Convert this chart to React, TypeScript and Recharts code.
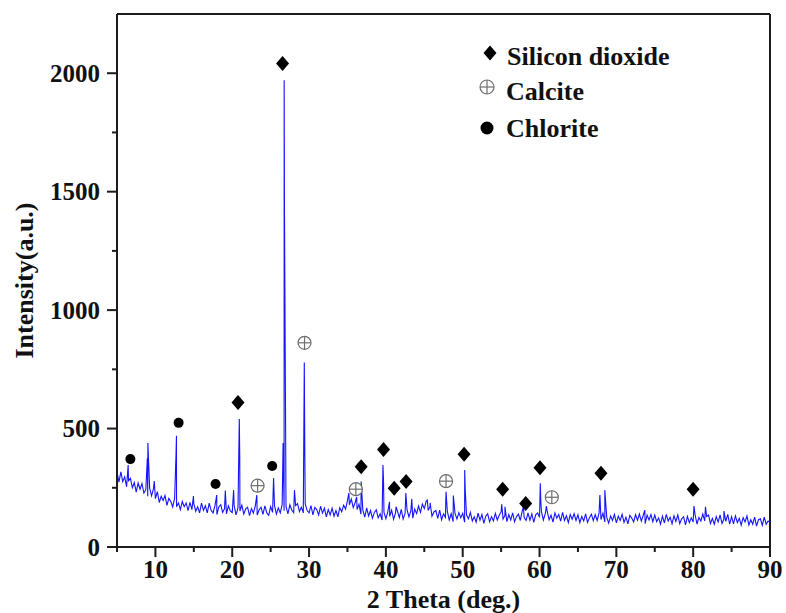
import { ComposedChart, Line, Scatter, XAxis, YAxis, Legend, ReferenceLine } from 'recharts';

const FONT = '"Liberation Serif", "Times New Roman", serif';
const AXIS = '#1c1c1c';

// scan background, one reading every 0.25 deg from 5 to 90
const scanStart = 5;
const scanStep = 0.25;
const background = [
    317, 274, 317, 276, 296, 254, 280, 290, 250, 272, 232, 270, 244, 268, 228, 242, 214, 248, 216, 246,
    204, 234, 188, 214, 196, 217, 176, 205, 192, 169, 206, 170, 186, 158, 192, 170, 186, 154, 188, 158,
    183, 151, 170, 144, 185, 155, 174, 144, 185, 155, 144, 174, 137, 169, 179, 146, 162, 140, 174, 152,
    145, 175, 136, 166, 152, 177, 139, 161, 168, 132, 162, 143, 173, 135, 157, 168, 138, 174, 144, 134,
    171, 146, 176, 139, 165, 144, 180, 153, 171, 140, 178, 156, 145, 175, 183, 150, 168, 144, 182, 154,
    144, 175, 136, 167, 158, 135, 172, 143, 164, 127, 158, 135, 164, 130, 154, 127, 166, 149, 176, 160,
    196, 178, 202, 166, 188, 158, 180, 139, 156, 126, 165, 131, 154, 121, 146, 157, 123, 140, 114, 147,
    119, 149, 129, 155, 117, 143, 152, 124, 159, 118, 143, 158, 127, 152, 122, 160, 141, 173, 146, 181,
    162, 194, 154, 172, 130, 148, 154, 121, 156, 115, 140, 125, 150, 114, 141, 107, 142, 118, 145, 123,
    142, 105, 135, 119, 146, 110, 128, 105, 143, 113, 137, 100, 130, 140, 106, 128, 110, 142, 114, 134,
    148, 118, 134, 107, 137, 114, 144, 106, 128, 139, 112, 152, 124, 112, 144, 113, 140, 104, 136, 144,
    125, 149, 114, 141, 150, 115, 134, 105, 144, 122, 137, 109, 146, 112, 132, 103, 137, 117, 140, 112,
    136, 103, 129, 110, 140, 104, 124, 139, 111, 137, 112, 144, 116, 143, 106, 125, 101, 131, 112, 138,
    102, 130, 112, 138, 104, 126, 98, 134, 122, 106, 137, 113, 139, 109, 134, 99, 135, 114, 137, 107,
    135, 107, 123, 96, 130, 102, 138, 110, 126, 98, 132, 108, 135, 99, 119, 127, 93, 129, 103, 123,
    106, 136, 97, 125, 110, 139, 110, 129, 135, 99, 121, 96, 128, 106, 136, 99, 118, 108, 138, 97,
    128, 98, 131, 103, 121, 92, 124, 106, 131, 93, 115, 96, 126, 88, 115, 119, 91, 126, 96, 110,
    104,
];

// sharp reflections on top of the background: [2theta, intensity]
const reflections: [number, number][] = [
    [6.45, 346], [8.95, 375], [9.02, 439], [9.85, 278], [12.68, 388], [12.74, 470],
    [14.95, 215], [17.98, 219], [19.1, 238], [20.18, 240], [20.92, 540], [20.98, 375],
    [23.2, 219], [25.38, 291], [26.62, 439], [26.76, 1970], [26.8, 1420], [28.1, 240],
    [29.38, 779], [29.45, 380], [35.18, 228], [36.2, 211], [36.78, 276], [39.62, 346],
    [39.7, 270], [40.47, 191], [41.33, 170], [42.6, 228], [43.37, 203], [45.4, 198],
    [45.76, 186], [47.83, 233], [48.78, 217], [50.26, 325], [50.33, 240], [55.08, 180],
    [55.5, 170], [57.9, 169], [60.1, 269], [60.17, 191], [60.9, 173], [67.86, 219],
    [68.5, 240], [73.7, 156], [80.1, 173], [81.6, 170], [84.0, 152],
];

// phase markers placed above their peaks: [2theta, intensity]
const silicaMarks: [number, number][] = [
    [20.75, 610], [26.55, 2041], [36.78, 339], [39.69, 412], [41.08, 248], [42.63, 276],
    [50.18, 392], [55.2, 244], [58.2, 184], [60.06, 335], [68.0, 311], [79.99, 244],
];
const calciteMarks: [number, number][] = [
    [23.3, 259], [29.41, 862], [36.09, 244], [47.83, 278], [61.6, 210],
];
const chloriteMarks: [number, number][] = [
    [6.74, 371], [13.02, 524], [17.83, 266], [25.2, 342],
];

const xTicks = [5, 10, 15, 20, 25, 30, 35, 40, 45, 50, 55, 60, 65, 70, 75, 80, 85, 90];
const yTicks = [0, 250, 500, 750, 1000, 1250, 1500, 1750, 2000];

const toPoints = (rows: [number, number][]) => rows.map(([theta, counts]) => ({ theta, counts }));

const pattern = [
    ...background.map((counts, i) => ({ theta: scanStart + i * scanStep, counts })),
    ...toPoints(reflections),
].sort((a, b) => a.theta - b.theta);

const Diamond = ({ cx, cy }: any) => (
    <polygon points={`${cx},${cy - 7.5} ${cx + 6.5},${cy} ${cx},${cy + 7.5} ${cx - 6.5},${cy}`} fill="#000" />
);

const CirclePlus = ({ cx, cy, r = 6.5 }: any) => (
    <g stroke="#6e6e6e" strokeWidth={1.2} fill="#fff">
        <circle cx={cx} cy={cy} r={r} />
        <line x1={cx - r} y1={cy} x2={cx + r} y2={cy} />
        <line x1={cx} y1={cy - r} x2={cx} y2={cy + r} />
    </g>
);

const Dot = ({ cx, cy, r = 5 }: any) => <circle cx={cx} cy={cy} r={r} fill="#000" />;

const X_TICK = 10;
const X_GAP = 3;
const Y_TICK = 10;
const Y_GAP = 7;

const XTick = ({ x, y, payload }: any) => {
    const major = payload.value % 10 === 0;
    const axisY = y - X_TICK - X_GAP;
    return (
        <g>
            <line x1={x} y1={axisY} x2={x} y2={axisY + (major ? 10 : 5)} stroke={AXIS} strokeWidth={2} />
            {major && (
                <text x={x} y={y} dy="0.71em" textAnchor="middle" fontFamily={FONT} fontWeight="bold" fontSize={25} fill="#111">
                    {payload.value}
                </text>
            )}
        </g>
    );
};

const YTick = ({ x, y, payload }: any) => {
    const major = payload.value % 500 === 0;
    const axisX = x + Y_TICK + Y_GAP;
    return (
        <g>
            <line x1={axisX} y1={y} x2={axisX - (major ? 10 : 5)} y2={y} stroke={AXIS} strokeWidth={2} />
            {major && (
                <text x={x} y={y} dy="0.34em" textAnchor="end" fontFamily={FONT} fontWeight="bold" fontSize={25} fill="#111">
                    {payload.value}
                </text>
            )}
        </g>
    );
};

const legendText = { fontFamily: FONT, fontWeight: 'bold', fontSize: 26, fill: '#111' } as const;

const PhaseLegend = () => (
    <svg width={230} height={120}>
        <Diamond cx={20} cy={23} />
        <text x={37} y={35} {...legendText}>Silicon dioxide</text>
        <CirclePlus cx={17} cy={57} r={7} />
        <text x={36} y={70} {...legendText}>Calcite</text>
        <Dot cx={17} cy={98} r={6.5} />
        <text x={36} y={107} {...legendText}>Chlorite</text>
    </svg>
);

export default function App() {
    return (
        <div style={{ width: 786, height: 613, background: '#fff' }}>
            <style>{'body { margin: 0; }'}</style>
            <ComposedChart width={786} height={613} data={pattern} margin={{ top: 14, right: 16, bottom: 0, left: 0 }}>
                <XAxis
                    dataKey="theta"
                    type="number"
                    domain={[5, 90]}
                    ticks={xTicks}
                    interval={0}
                    height={66}
                    tickSize={X_TICK}
                    tickMargin={X_GAP}
                    tickLine={false}
                    tick={<XTick />}
                    axisLine={{ stroke: AXIS, strokeWidth: 2 }}
                    label={{
                        value: '2 Theta (deg.)',
                        position: 'insideBottom',
                        offset: 5,
                        style: { fontFamily: FONT, fontWeight: 'bold', fontSize: 26, fill: '#111' },
                    }}
                />
                <YAxis
                    type="number"
                    domain={[0, 2250]}
                    ticks={yTicks}
                    interval={0}
                    width={117}
                    tickSize={Y_TICK}
                    tickMargin={Y_GAP}
                    tickLine={false}
                    tick={<YTick />}
                    axisLine={{ stroke: AXIS, strokeWidth: 2 }}
                    label={{
                        value: 'Intensity(a.u.)',
                        angle: -90,
                        position: 'insideLeft',
                        offset: 24,
                        style: { fontFamily: FONT, fontWeight: 'bold', fontSize: 26, fill: '#111', textAnchor: 'middle' },
                    }}
                />
                <ReferenceLine y={2250} stroke={AXIS} strokeWidth={2} />
                <ReferenceLine x={90} stroke={AXIS} strokeWidth={2} />
                <Line
                    type="linear"
                    dataKey="counts"
                    stroke="#1414ff"
                    strokeWidth={1.1}
                    dot={false}
                    activeDot={false}
                    isAnimationActive={false}
                />
                <Scatter name="Silicon dioxide" data={toPoints(silicaMarks)} dataKey="counts" shape={<Diamond />} isAnimationActive={false} />
                <Scatter name="Calcite" data={toPoints(calciteMarks)} dataKey="counts" shape={<CirclePlus />} isAnimationActive={false} />
                <Scatter name="Chlorite" data={toPoints(chloriteMarks)} dataKey="counts" shape={<Dot />} isAnimationActive={false} />
                <Legend
                    layout="horizontal"
                    verticalAlign="middle"
                    align="center"
                    content={<PhaseLegend />}
                    wrapperStyle={{ top: 30, left: 470, width: 230, height: 120 }}
                />
            </ComposedChart>
        </div>
    );
}
